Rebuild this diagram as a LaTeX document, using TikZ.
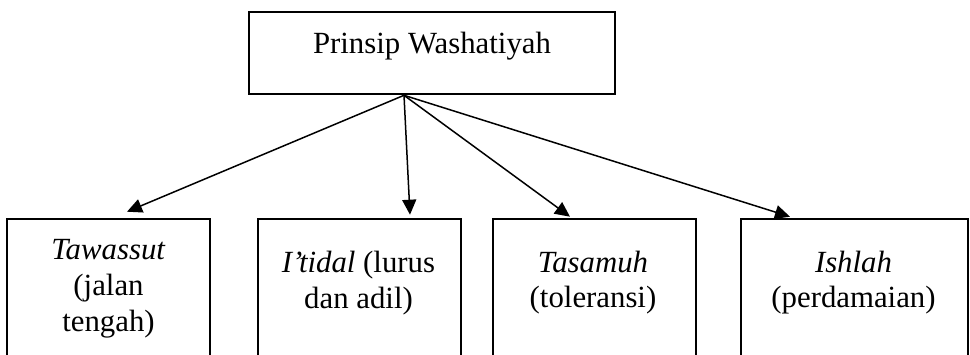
\documentclass[tikz,border=0pt]{standalone}
\usepackage{fontspec}
\setmainfont{Liberation Serif}
\usetikzlibrary{arrows.meta}
\begin{document}
\begin{tikzpicture}[x=1pt,y=-1pt,
  box/.style={draw, line width=2.6pt, rectangle, inner sep=0pt},
  lbl/.style={font=\fontsize{30.8}{35.5}\selectfont, anchor=base, inner sep=0pt},
  arr/.style={-{Triangle[length=15pt,width=14pt]}, line width=1.5pt}]
\useasboundingbox (0,0) rectangle (970,354);
\clip (0,0) rectangle (970,354);
% boxes
\node[box, minimum width=366pt, minimum height=82pt] (top) at (432,53) {};
\node[box, minimum width=203pt, minimum height=181pt] (b1) at (108.5,309.5) {};
\node[box, minimum width=203pt, minimum height=181pt] (b2) at (359.5,309.5) {};
\node[box, minimum width=203pt, minimum height=181pt] (b3) at (594.5,309.5) {};
\node[box, minimum width=227pt, minimum height=181pt] (b4) at (854.5,309.5) {};
% texts
\node[lbl] (t0) at (432,53) {Prinsip Washatiyah};
\node[lbl] (t1a) at (108.5,259) {\textit{Tawassut}};
\node[lbl] (t1b) at (108.5,295) {(jalan};
\node[lbl] (t1c) at (108.5,331) {tengah)};
\node[lbl] (t2a) at (358.5,272.5) {\textit{I’tidal} (lurus};
\node[lbl] (t2b) at (358.5,308) {dan adil)};
\node[lbl] (t3a) at (593,272) {\textit{Tasamuh}};
\node[lbl] (t3b) at (593,307) {(toleransi)};
\node[lbl] (t4a) at (853.5,272) {\textit{Ishlah}};
\node[lbl] (t4b) at (853.5,307) {(perdamaian)};
% connectors
\coordinate (hub) at ([xshift=-28pt]top.south);
\draw[arr] (hub) -- ([shift={(18.5,-6)}]b1.north);
\draw[arr] (hub) -- ([shift={(50.5,-3)}]b2.north);
\draw[arr] (hub) -- ([shift={(-24.5,-1)}]b3.north);
\draw[arr] (hub) -- ([shift={(-64.5,-1)}]b4.north);
\end{tikzpicture}
\end{document}
